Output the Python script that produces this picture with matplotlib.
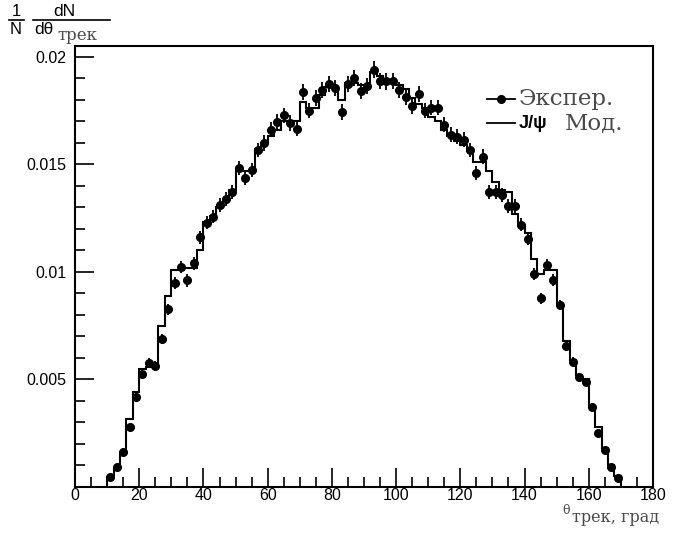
import numpy as np
import matplotlib
matplotlib.use("Agg")
import matplotlib.pyplot as plt
from matplotlib.lines import Line2D
from matplotlib.ticker import MultipleLocator

# ---------------- data ----------------
bin_low = 10      # first bin lower edge (degrees)
bin_width = 2     # bin width (degrees)

# model histogram (J/psi MC), 80 bins from 10 to 170 deg
model = [0.0004, 0.0009, 0.0016, 0.00315, 0.0044, 0.0055, 0.0056, 0.0056,
         0.0075, 0.0089, 0.0101, 0.0101, 0.0102, 0.0102, 0.0110, 0.0123,
         0.0126, 0.0130, 0.0134, 0.0138, 0.0148, 0.0147, 0.0147, 0.0157,
         0.0160, 0.0163, 0.0166, 0.0170, 0.0170, 0.0170, 0.0179, 0.0176,
         0.0176, 0.0182, 0.0186, 0.0186, 0.0180, 0.0188, 0.0188, 0.0187,
         0.0187, 0.0193, 0.0191, 0.0188, 0.0188, 0.0187, 0.0185, 0.0181,
         0.0178, 0.0176, 0.0172, 0.0170, 0.0166, 0.0163, 0.0161, 0.0159,
         0.0156, 0.0151, 0.0151, 0.0147, 0.0142, 0.0138, 0.0137, 0.0127,
         0.0122, 0.0118, 0.0106, 0.0099, 0.0101, 0.0101, 0.0085, 0.0068,
         0.0059, 0.0052, 0.0050, 0.0037, 0.0028, 0.0018, 0.0010, 0.0005]

# experimental points at bin centres
data = [0.00048, 0.00094, 0.00164, 0.00278, 0.00417, 0.00526, 0.00575, 0.00563,
        0.00688, 0.00826, 0.00947, 0.01022, 0.00960, 0.01040, 0.01161, 0.01229,
        0.01257, 0.01312, 0.01338, 0.01373, 0.01482, 0.01436, 0.01474, 0.01567,
        0.01599, 0.01661, 0.01699, 0.01727, 0.01692, 0.01665, 0.01836, 0.01749,
        0.01808, 0.01846, 0.01873, 0.01854, 0.01743, 0.01873, 0.01901, 0.01842,
        0.01862, 0.01940, 0.01888, 0.01885, 0.01888, 0.01846, 0.01815, 0.01769,
        0.01826, 0.01749, 0.01764, 0.01764, 0.01684, 0.01637, 0.01629, 0.01614,
        0.01567, 0.01459, 0.01536, 0.01373, 0.01370, 0.01358, 0.01307, 0.01307,
        0.01219, 0.01152, 0.00990, 0.00878, 0.01032, 0.00963, 0.00846, 0.00656,
        0.00582, 0.00510, 0.00490, 0.00374, 0.00253, 0.00172, 0.00094, 0.00040]

data_err = [0.00010, 0.00012, 0.00015, 0.00018, 0.00020, 0.00022, 0.00023, 0.00023,
            0.00025, 0.00026, 0.00028, 0.00029, 0.00028, 0.00029, 0.00030, 0.00031,
            0.00031, 0.00032, 0.00032, 0.00032, 0.00033, 0.00033, 0.00033, 0.00034,
            0.00035, 0.00035, 0.00036, 0.00036, 0.00036, 0.00035, 0.00037, 0.00036,
            0.00037, 0.00037, 0.00038, 0.00037, 0.00036, 0.00038, 0.00038, 0.00037,
            0.00037, 0.00038, 0.00038, 0.00038, 0.00038, 0.00037, 0.00037, 0.00036,
            0.00037, 0.00036, 0.00036, 0.00036, 0.00036, 0.00035, 0.00035, 0.00035,
            0.00034, 0.00033, 0.00034, 0.00032, 0.00032, 0.00032, 0.00031, 0.00031,
            0.00030, 0.00029, 0.00027, 0.00026, 0.00028, 0.00027, 0.00025, 0.00022,
            0.00021, 0.00020, 0.00019, 0.00017, 0.00014, 0.00012, 0.00010, 0.00008]

x_ticks = [0, 20, 40, 60, 80, 100, 120, 140, 160, 180]
y_ticks = [0.005, 0.01, 0.015, 0.02]
y_tick_labels = ["0.005", "0.01", "0.015", "0.02"]

# ---------------- figure ----------------
W, H = 679, 534
fig = plt.figure(figsize=(W / 100, H / 100), dpi=100)
L, R, T, B = 75, 653, 46, 487
ax = fig.add_axes([L / W, 1 - B / H, (R - L) / W, (B - T) / H])

n = len(model)
edges = bin_low + bin_width * np.arange(n + 1)
centers = edges[:-1] + bin_width / 2

ax.stairs(model, edges, baseline=0, color="black", lw=1.5)
ax.errorbar(centers, data, yerr=data_err, xerr=bin_width / 2, fmt="o",
            color="black", ms=5.5, elinewidth=1.3, capsize=0)

ax.set_xlim(0, 180)
ax.set_ylim(0, 0.0205)
ax.set_xticks(x_ticks)
ax.set_xticklabels([str(v) for v in x_ticks])
ax.set_yticks(y_ticks)
ax.set_yticklabels(y_tick_labels)
ax.xaxis.set_minor_locator(MultipleLocator(5))
ax.yaxis.set_minor_locator(MultipleLocator(0.001))
ax.tick_params(which="both", direction="in", top=False, right=False,
               labelsize=11.5, width=1.2)
ax.tick_params(which="major", length=14)
ax.tick_params(which="minor", length=7)
ax.tick_params(axis="x", pad=0.5)
ax.tick_params(axis="y", pad=6)
for lab in ax.get_xticklabels() + ax.get_yticklabels():
    lab.set_family("Liberation Sans")
for s in ax.spines.values():
    s.set_linewidth(1.5)


def fx(x):
    return x / W


def fy(y):
    return 1 - y / H


sans = "Liberation Sans"
serif = "DejaVu Serif"
grey = "#4a4a4a"

# y-axis label: 1/N dN/dtheta_trek
fig.text(fx(16), fy(11), "1", ha="center", va="center", fontsize=12, family=sans)
fig.add_artist(Line2D([fx(9), fx(24)], [fy(20), fy(20)], color="black", lw=1.2))
fig.text(fx(16), fy(29), "N", ha="center", va="center", fontsize=12, family=sans)
fig.text(fx(64), fy(11), "dN", ha="center", va="center", fontsize=12.5, family=sans)
fig.add_artist(Line2D([fx(33), fx(110)], [fy(20), fy(20)], color="black", lw=1.2))
fig.text(fx(44), fy(29), "dθ", ha="center", va="center", fontsize=12.5, family=sans)
fig.text(fx(57), fy(36), "трек", ha="left", va="center", fontsize=12, family=serif, color=grey)

# x-axis label
fig.text(fx(562), fy(510), "θ", ha="left", va="center", fontsize=9, family=serif, color=grey)
fig.text(fx(572), fy(518), "трек, град", ha="left", va="center", fontsize=11.5,
         family=serif, color=grey)

# legend
fig.add_artist(Line2D([fx(487), fx(515)], [fy(99), fy(99)], color="black", lw=1.3))
fig.add_artist(Line2D([fx(501)], [fy(99)], marker="o", ms=5.5, color="black"))
fig.text(fx(519), fy(99), "Экспер.", ha="left", va="center", fontsize=16.5,
         family=serif, color=grey)
fig.add_artist(Line2D([fx(487), fx(515)], [fy(123), fy(123)], color="black", lw=1.3))
fig.text(fx(519), fy(124), "J/ψ", ha="left", va="center", fontsize=13,
         family=sans, color="black", weight="bold")
fig.text(fx(565), fy(123), "Мод.", ha="left", va="center", fontsize=16.5,
         family=serif, color=grey)

fig.savefig("out.png", dpi=100)
